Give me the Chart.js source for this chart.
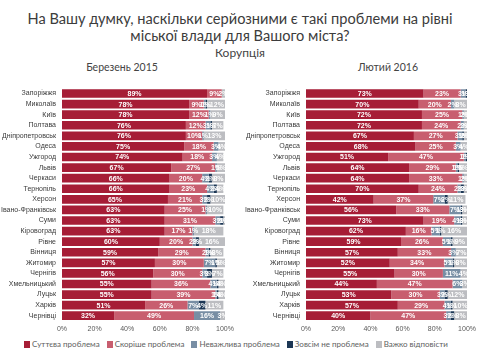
<!DOCTYPE html>
<html lang="uk">
<head>
<meta charset="utf-8">
<script src="https://cdn.jsdelivr.net/npm/chart.js@4.4.1/dist/chart.umd.min.js"></script>
<style>
  html, body { margin: 0; padding: 0; background: #fff; }
  body { width: 480px; height: 348px; position: relative; overflow: hidden; font-family: Lato, "Open Sans", sans-serif; color: #404040; }
  .t { position: absolute; left: 0; width: 480px; text-align: center; white-space: nowrap; }
  #title { top: 11px; font-size: 14.6px; line-height: 16.5px; color: #3c3c3c; }
  #topic { top: 45px; font-size: 12px; color: #444; }
  .panel-title { position: absolute; top: 61px; font-size: 10.5px; color: #444; text-align: center; width: 200px; }
  .wrap { position: absolute; top: 78px; width: 240px; height: 257px; }
  #legend { position: absolute; top: 339px; left: 24px; font-size: 8px; color: #606060; white-space: nowrap; display: flex; gap: 7px; }
  #legend span.sw { display: inline-block; width: 6px; height: 7px; margin-right: 2px; vertical-align: -0.5px; }
</style>
</head>
<body>
<div id="title" class="t">На Вашу думку, наскільки серйозними є такі проблеми на рівні<br>міської влади для Вашого міста?</div>
<div id="topic" class="t">Корупція</div>
<div class="panel-title" style="left:22px">Березень 2015</div>
<div class="panel-title" style="left:288px">Лютий 2016</div>
<div class="wrap" style="left:0"><canvas id="c2015"></canvas></div>
<div class="wrap" style="left:240px"><canvas id="c2016"></canvas></div>
<div id="legend"></div>

<script>
// Cities, top to bottom
const cities = ["Запоріжжя", "Миколаїв", "Київ", "Полтава", "Дніпропетровськ", "Одеса", "Ужгород", "Львів",
  "Черкаси", "Тернопіль", "Херсон", "Івано-Франківськ", "Суми", "Кіровоград", "Рівне", "Вінниця",
  "Житомир", "Чернігів", "Хмельницький", "Луцьк", "Харків", "Чернівці"];

// Answer options (series names)
const answers = ["Суттєва проблема", "Скоріше проблема", "Неважлива проблема", "Зовсім не проблема", "Важко відповісти"];
const answerColors = ["#a61d36", "#c85e6f", "#788ea4", "#1d3755", "#bcbdc1"];

// March 2015 survey, % of respondents
const severe2015 = [89, 78, 78, 76, 76, 75, 74, 67, 66, 66, 65, 63, 63, 63, 60, 59, 57, 56, 55, 55, 51, 32];
const rather2015 = [9, 9, 12, 12, 10, 18, 18, 27, 20, 23, 21, 25, 31, 17, 20, 29, 30, 30, 36, 39, 26, 49];
const minor2015  = [0, 1, 1, 3, 1, 3, 3, 1, 4, 4, 3, 1, 3, 1, 2, 2, 7, 3, 4, 1, 7, 16];
const none2015   = [0, 1, 0, 1, 0, 0, 0, 0, 2, 2, 2, 0, 2, 0, 2, 1, 1, 3, 1, 1, 4, 0];
const hard2015   = [2, 12, 9, 7, 13, 4, 4, 5, 8, 4, 10, 10, 1, 18, 16, 8, 5, 7, 4, 4, 11, 3];

// February 2016 survey, % of respondents
const severe2016 = [73, 70, 72, 72, 67, 68, 51, 64, 64, 70, 42, 56, 73, 62, 59, 57, 52, 55, 44, 53, 57, 40];
const rather2016 = [23, 20, 25, 24, 27, 25, 47, 29, 33, 24, 37, 33, 19, 16, 26, 33, 34, 30, 47, 30, 29, 47];
const minor2016  = [3, 2, 1, 2, 3, 3, 1, 1, 1, 2, 7, 7, 4, 5, 5, 3, 5, 11, 6, 3, 4, 3];
const none2016   = [1, 0, 0, 0, 1, 0, 1, 1, 0, 2, 2, 1, 1, 1, 1, 0, 1, 0, 0, 2, 1, 2];
const hard2016   = [0, 8, 2, 2, 2, 4, 0, 5, 2, 2, 11, 3, 3, 16, 9, 7, 8, 4, 3, 12, 10, 8];

// X axis ticks
const xTicks = [0, 20, 40, 60, 80, 100];

const FONT = "'Liberation Sans', Arial, sans-serif";

// Writes each segment's percentage in its middle
const segmentLabels = {
  id: 'segmentLabels',
  afterDatasetsDraw(chart) {
    const ctx = chart.ctx, area = chart.chartArea;
    ctx.save();
    ctx.beginPath();
    ctx.rect(area.left, area.top, area.right - area.left, area.bottom - area.top);
    ctx.clip();
    ctx.font = "bold 7px " + FONT;
    ctx.fillStyle = "#ffffff";
    ctx.textAlign = "center";
    ctx.textBaseline = "middle";
    chart.data.datasets.forEach((ds, di) => {
      const meta = chart.getDatasetMeta(di);
      meta.data.forEach((bar, i) => {
        const v = ds.data[i];
        if (!v) return;
        ctx.fillText(v + "%", (bar.x + bar.base) / 2, bar.y + 0.5);
      });
    });
    ctx.restore();
  }
};

function makeChart(id, series, leftWidth, rightPad) {
  return new Chart(document.getElementById(id), {
    type: 'bar',
    data: {
      labels: cities,
      datasets: series.map((s, k) => ({
        label: answers[k],
        data: s,
        backgroundColor: answerColors[k],
        borderWidth: 0,
        categoryPercentage: 0.82,
        barPercentage: 1.0
      }))
    },
    options: {
      indexAxis: 'y',
      responsive: true,
      maintainAspectRatio: false,
      animation: false,
      layout: { padding: { left: 0, right: rightPad, top: 0, bottom: 0 } },
      plugins: { legend: { display: false }, tooltip: { enabled: false } },
      scales: {
        x: {
          stacked: true,
          min: 0, max: 100,
          afterBuildTicks: (scale) => { scale.ticks = xTicks.map(v => ({ value: v })); },
          afterFit: (scale) => { scale.height = 14; },
          grid: { display: false, drawTicks: false },
          border: { display: false },
          ticks: { padding: 4, color: '#595959', font: { size: 7, family: FONT }, callback: v => v + '%' }
        },
        y: {
          stacked: true,
          afterFit: (scale) => { scale.width = leftWidth; },
          grid: { display: false, drawTicks: false },
          border: { display: false },
          ticks: { padding: 6, color: '#3a3a3a', font: { size: 7, family: FONT }, autoSkip: false }
        }
      }
    },
    plugins: [segmentLabels]
  });
}

makeChart('c2015', [severe2015, rather2015, minor2015, none2015, hard2015], 62, 15);
makeChart('c2016', [severe2016, rather2016, minor2016, none2016, hard2016], 66, 10);

// Shared legend below both panels
const legend = document.getElementById('legend');
answers.forEach((name, k) => {
  const item = document.createElement('div');
  item.innerHTML = '<span class="sw" style="background:' + answerColors[k] + '"></span>' + name;
  legend.appendChild(item);
});
</script>
</body>
</html>
